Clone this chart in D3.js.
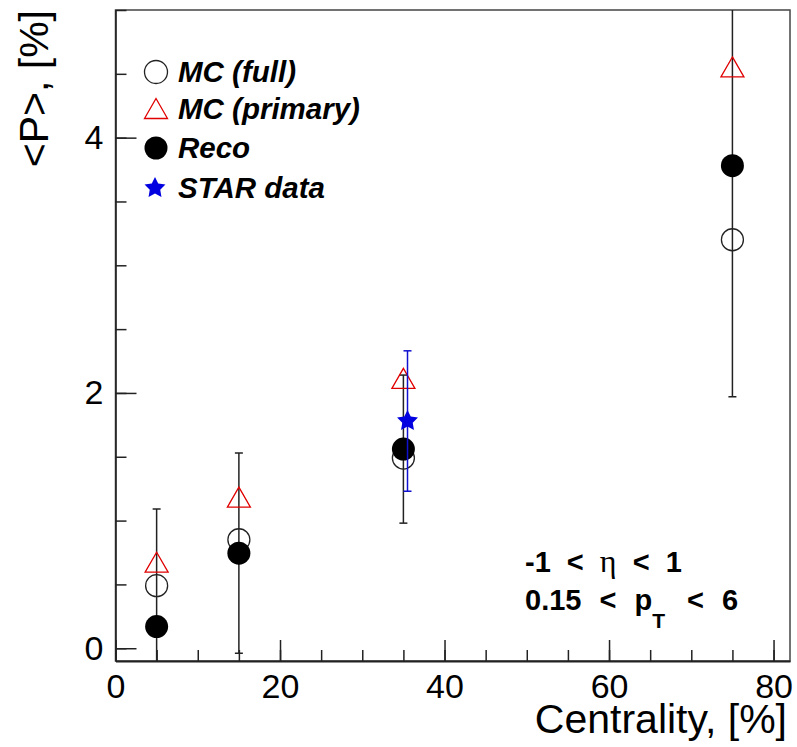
<!DOCTYPE html>
<meta charset="utf-8">
<style>
body { margin: 0; background: #fff; }
text { font-family: "Liberation Sans", Arial, Helvetica, sans-serif; fill: #000; }
.axis path, .axis line { stroke: #222; }
.cuts1 { word-spacing: 8px; }
.cuts2 { word-spacing: 10px; }
</style>
<svg class="chart" width="797" height="747"></svg>
<script src="https://cdn.jsdelivr.net/npm/d3@7"></script>
<script>

// values
var centrality = [5, 15, 35, 75];
var mcFull     = [0.49, 0.85, 1.49, 3.20];
var mcPrimary  = [0.67, 1.18, 2.11, 4.55];
var reco       = [0.17, 0.745, 1.56, 3.78];
var recoErr    = [0.92, 0.785, 0.58, 1.81];
var starX      = [35.5];
var starY      = [1.78];
var starErr    = [0.55];

var xMajor = [0, 20, 40, 60, 80];
var yMajor = [0, 2, 4];
var legendLabels = ["MC (full)", "MC (primary)", "Reco", "STAR data"];

var svg = d3.select(".chart");
var padL = 115.5, padR = 790, padT = 10, padB = 661;

var x = d3.scaleLinear().domain([0, 82]).range([padL, padR]);
var y = d3.scaleLinear().domain([-0.1, 5.0]).range([padB, padT]);

svg.append("clipPath").attr("id", "plot")
  .append("rect")
    .attr("x", padL).attr("y", padT)
    .attr("width", padR - padL).attr("height", padB - padT);

// frame
svg.append("rect")
    .attr("x", padL).attr("y", padT)
    .attr("width", padR - padL).attr("height", padB - padT)
    .attr("fill", "none").attr("stroke", "#444").attr("stroke-width", 1.5);

// minor ticks
var xMinor = d3.range(0, 82, 5);
var yMinor = d3.range(0, 5.01, 0.5);

svg.append("g").attr("class", "axis")
    .attr("transform", "translate(0," + padB + ")")
    .call(d3.axisBottom(x).tickValues(xMinor).tickSize(-11).tickFormat(""))
    .call(function(g) { g.select(".domain").remove(); });

svg.append("g").attr("class", "axis")
    .attr("transform", "translate(" + padL + ",0)")
    .call(d3.axisLeft(y).tickValues(yMinor).tickSize(-11).tickFormat(""))
    .call(function(g) { g.select(".domain").remove(); });

// major ticks with labels
var xAxis = svg.append("g").attr("class", "axis")
    .attr("transform", "translate(0," + padB + ")")
    .call(d3.axisBottom(x).tickValues(xMajor).tickFormat(d3.format("d"))
      .tickSize(-21).tickPadding(13).tickSizeOuter(0));
xAxis.select(".domain").attr("stroke", "#000").attr("stroke-width", 2.2);
xAxis.selectAll("text").attr("font-size", 34).attr("fill", "#000");

var yAxis = svg.append("g").attr("class", "axis")
    .attr("transform", "translate(" + padL + ",0)")
    .call(d3.axisLeft(y).tickValues(yMajor).tickFormat(d3.format("d"))
      .tickSize(-21).tickPadding(12).tickSizeOuter(0));
yAxis.select(".domain").attr("stroke-width", 1.6);
yAxis.selectAll("text").attr("font-size", 34).attr("fill", "#000");

svg.selectAll(".axis .tick line").attr("stroke-width", 1.5);

// axis titles
svg.append("text")
    .attr("x", 787).attr("y", 733)
    .attr("text-anchor", "end")
    .attr("font-size", 41)
    .text("Centrality, [%]");

svg.append("text")
    .attr("transform", "translate(48," + padT + ") rotate(-90)")
    .attr("text-anchor", "end")
    .attr("font-size", 41)
    .text("<P>, [%]");

var plot = svg.append("g").attr("clip-path", "url(#plot)");

function errorBars(g, xs, ys, es, color) {
  var bars = g.selectAll(null).data(xs).enter().append("g");
  bars.append("line")
      .attr("x1", function(d) { return x(d); })
      .attr("x2", function(d) { return x(d); })
      .attr("y1", function(d, i) { return y(ys[i] - es[i]); })
      .attr("y2", function(d, i) { return y(ys[i] + es[i]); })
      .attr("stroke", color).attr("stroke-width", 1.5);
  [-1, 1].forEach(function(s) {
    bars.append("line")
        .attr("x1", function(d) { return x(d) - 4; })
        .attr("x2", function(d) { return x(d) + 4; })
        .attr("y1", function(d, i) { return y(ys[i] + s * es[i]); })
        .attr("y2", function(d, i) { return y(ys[i] + s * es[i]); })
        .attr("stroke", color).attr("stroke-width", 1.5);
  });
}

var triangle = "M0,-10.5L11.5,9.5L-11.5,9.5Z";

// fat five-pointed star like ROOT's marker 29
function starPath(R, r) {
  var pts = [];
  for (var k = 0; k < 10; k++) {
    var a = -Math.PI / 2 + k * Math.PI / 5, rad = k % 2 ? r : R;
    pts.push([rad * Math.cos(a), rad * Math.sin(a)]);
  }
  return "M" + pts.join("L") + "Z";
}
var star = starPath(11, 5.5);

errorBars(plot, centrality, reco, recoErr, "#222");

plot.selectAll(".full").data(centrality).enter().append("circle")
    .attr("cx", function(d) { return x(d); })
    .attr("cy", function(d, i) { return y(mcFull[i]); })
    .attr("r", 11)
    .attr("fill", "none").attr("stroke", "#222").attr("stroke-width", 1.3);

plot.selectAll(".prim").data(centrality).enter().append("path")
    .attr("d", triangle)
    .attr("transform", function(d, i) { return "translate(" + x(d) + "," + y(mcPrimary[i]) + ")"; })
    .attr("fill", "none").attr("stroke", "#e00000").attr("stroke-width", 1.3);

plot.selectAll(".reco").data(centrality).enter().append("circle")
    .attr("cx", function(d) { return x(d); })
    .attr("cy", function(d, i) { return y(reco[i]); })
    .attr("r", 11.5)
    .attr("fill", "#000");

errorBars(plot, starX, starY, starErr, "#1010d0");

plot.selectAll(".star").data(starX).enter().append("path")
    .attr("d", star)
    .attr("transform", function(d, i) { return "translate(" + x(d) + "," + y(starY[i]) + ")"; })
    .attr("fill", "#0000e0");

// legend
var legendY = [72, 109, 148, 188];
var legend = svg.append("g");
legend.append("circle").attr("cx", 156).attr("cy", legendY[0]).attr("r", 11.5)
    .attr("fill", "none").attr("stroke", "#222").attr("stroke-width", 1.3);
legend.append("path").attr("d", triangle)
    .attr("transform", "translate(156," + legendY[1] + ")")
    .attr("fill", "none").attr("stroke", "#e00000").attr("stroke-width", 1.3);
legend.append("circle").attr("cx", 156).attr("cy", legendY[2]).attr("r", 11.5)
    .attr("fill", "#000");
legend.append("path").attr("d", star)
    .attr("transform", "translate(155," + legendY[3] + ")")
    .attr("fill", "#0000e0");

legend.selectAll("text").data(legendLabels).enter().append("text")
    .attr("x", 178)
    .attr("y", function(d, i) { return legendY[i] + 10; })
    .attr("font-size", 29.5)
    .attr("font-weight", "bold")
    .attr("font-style", "italic")
    .text(function(d) { return d; });

// cut labels
var t1 = svg.append("text").attr("class", "cuts1").attr("x", 525).attr("y", 572)
    .attr("font-size", 29).attr("font-weight", "bold");
t1.append("tspan").text("-1 < ");
t1.append("tspan").attr("font-family", "'Liberation Serif', 'Times New Roman', serif")
    .attr("font-weight", "normal").attr("font-size", 32).text("η");
t1.append("tspan").text(" < 1");

var t2 = svg.append("text").attr("class", "cuts2").attr("x", 525).attr("y", 610)
    .attr("font-size", 29).attr("font-weight", "bold");
t2.append("tspan").text("0.15 < p");
t2.append("tspan").attr("dy", 18).attr("font-size", 21).text("T");
t2.append("tspan").attr("dy", -18).attr("dx", 4).text(" < 6");

</script>
